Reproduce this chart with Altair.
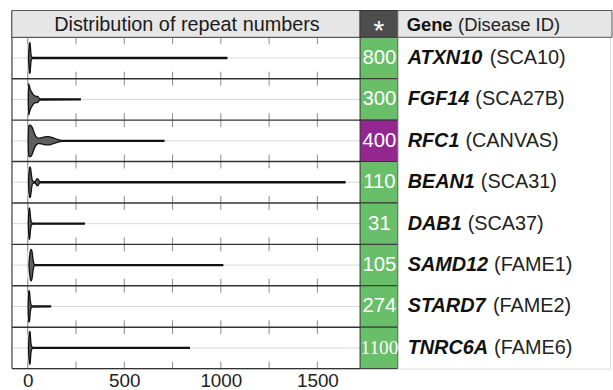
import altair as alt
import pandas as pd

# ---- table content -------------------------------------------------------
genes = ["ATXN10", "FGF14", "RFC1", "BEAN1", "DAB1", "SAMD12", "STARD7", "TNRC6A"]
diseases = ["SCA10", "SCA27B", "CANVAS", "SCA31", "SCA37", "FAME1", "FAME2", "FAME6"]
thresholds = ["800", "300", "400", "110", "31", "105", "274", "1100"]
inheritance = ["AD", "AD", "AR", "AD", "AD", "AD", "AD", "AD"]

axis_labels = [0, 500, 1000, 1500]
minor_ticks = [0, 250, 500, 750, 1000, 1250, 1500]

# ---- violin outlines: repeat number vs. half-width (fraction of a row) ----
atxn10_rep = [4, 6, 8, 10, 12, 14, 16, 19, 24, 40, 1031]
atxn10_hw = [0, 0.2, 0.33, 0.37, 0.35, 0.25, 0.12, 0.04, 0.015, 0.012, 0.012]

fgf14_rep = [3, 5, 8, 12, 16, 20, 28, 36, 44, 50, 56, 62, 272]
fgf14_hw = [0, 0.38, 0.33, 0.26, 0.21, 0.18, 0.12, 0.085, 0.075, 0.075, 0.05, 0.015, 0.012]

rfc1_rep = [2, 4, 8, 14, 20, 26, 32, 38, 46, 54, 62, 72, 84, 96, 108, 120, 132, 144, 156, 168, 178, 705]
rfc1_hw = [0, 0.3, 0.38, 0.38, 0.35, 0.29, 0.21, 0.14, 0.09, 0.065, 0.065, 0.075, 0.09, 0.1, 0.1,
           0.09, 0.07, 0.05, 0.03, 0.018, 0.012, 0.012]

bean1_rep = [4, 6, 9, 12, 15, 18, 22, 28, 38, 42, 46, 50, 54, 58, 62, 1643]
bean1_hw = [0, 0.22, 0.34, 0.37, 0.33, 0.22, 0.08, 0.02, 0.012, 0.04, 0.075, 0.08, 0.075, 0.04, 0.012, 0.012]

dab1_rep = [3, 5, 7, 9, 11, 13, 15, 18, 22, 28, 293]
dab1_hw = [0, 0.25, 0.36, 0.38, 0.33, 0.22, 0.12, 0.05, 0.02, 0.012, 0.012]

samd12_rep = [6, 9, 12, 15, 18, 21, 24, 27, 31, 36, 1010]
samd12_hw = [0, 0.18, 0.3, 0.36, 0.38, 0.35, 0.27, 0.15, 0.05, 0.012, 0.012]

stard7_rep = [2, 4, 6, 8, 10, 12, 15, 19, 24, 118]
stard7_hw = [0, 0.26, 0.37, 0.38, 0.32, 0.2, 0.08, 0.025, 0.015, 0.012]

tnrc6a_rep = [4, 6, 8, 10, 12, 14, 16, 19, 23, 30, 837]
tnrc6a_hw = [0, 0.22, 0.34, 0.4, 0.38, 0.28, 0.14, 0.05, 0.02, 0.012, 0.012]

outlines = [
    (atxn10_rep, atxn10_hw), (fgf14_rep, fgf14_hw), (rfc1_rep, rfc1_hw), (bean1_rep, bean1_hw),
    (dab1_rep, dab1_hw), (samd12_rep, samd12_hw), (stard7_rep, stard7_hw), (tnrc6a_rep, tnrc6a_hw),
]

# ---- layout ---------------------------------------------------------------
ROW_PX = 41.75
HEADER_PX = 27
N = len(genes)
PANEL_H = HEADER_PX + N * ROW_PX
DIST_W, NUM_W, GENE_W = 351, 38, 214
FONT = "Liberation Sans"
GENE_FS = 20

y_scale = alt.Scale(domain=[-HEADER_PX / ROW_PX, N], reverse=True, nice=False, zero=False)
x_scale = alt.Scale(domain=[-82, 1721], nice=False, zero=False)
x_axis = alt.Axis(values=axis_labels, format="d", ticks=False, domain=False, grid=False,
                  labelFont=FONT, labelFontSize=19, labelColor="#222222", labelPadding=3,
                  title=None, labelFlush=False)

# advance widths (em) of Liberation Sans Bold, used to place the regular-weight
# disease names right after the bold gene symbols
BOLD_EM = {"A": 0.722, "B": 0.722, "C": 0.722, "D": 0.722, "E": 0.667, "F": 0.611,
           "G": 0.778, "M": 0.833, "N": 0.722, "R": 0.722, "S": 0.667, "T": 0.611,
           "X": 0.667, "e": 0.556, "n": 0.611, " ": 0.278}


def bold_width(s, size):
    return sum(BOLD_EM.get(ch, 0.556) for ch in s) * size


rows = pd.DataFrame({
    "gene": genes,
    "disease": [f"({d})" for d in diseases],
    "threshold": thresholds,
    "mode": inheritance,
    "top": list(range(N)),
    "bottom": [i + 1 for i in range(N)],
    "center": [i + 0.5 for i in range(N)],
})
rows["disease_x"] = [10 + bold_width(g, GENE_FS) + 0.3 * GENE_FS for g in genes]

violin_records = []
for i, (g, (reps, hws)) in enumerate(zip(genes, outlines)):
    for r, w in zip(reps, hws):
        violin_records.append({"gene": g, "repeat": r, "lo": i + 0.5 - w, "hi": i + 0.5 + w})
violins = pd.DataFrame(violin_records)

boundaries = pd.DataFrame({"b": list(range(N + 1))})

TICK_HALF = 7 / ROW_PX
tick_records = []
for b in range(N + 1):
    for t in minor_ticks:
        tick_records.append({"x": t, "y1": max(b - TICK_HALF, 0), "y2": min(b + TICK_HALF, N)})
ticks = pd.DataFrame(tick_records)

zero_line = pd.DataFrame({"x": [0], "y1": [0], "y2": [N]})
one = pd.DataFrame({"label": ["Distribution of repeat numbers"]})

# ---- distribution panel -----------------------------------------------------
mid_lines = alt.Chart(rows).mark_rule(color="#d8d8d8", strokeWidth=1).encode(
    y=alt.Y("center:Q", scale=y_scale, axis=None))

zero_rule = alt.Chart(zero_line).mark_rule(color="#cccccc", strokeWidth=1).encode(
    x=alt.X("x:Q", scale=x_scale, axis=x_axis),
    y=alt.Y("y1:Q", scale=y_scale, axis=None), y2="y2:Q")

tick_rules = alt.Chart(ticks).mark_rule(color="#8a8a8a", strokeWidth=1).encode(
    x=alt.X("x:Q", scale=x_scale, axis=x_axis),
    y=alt.Y("y1:Q", scale=y_scale, axis=None), y2="y2:Q")

violin_marks = alt.Chart(violins).mark_area(
    fill="#5e5e5e", stroke="#111111", strokeWidth=1.3, interpolate="monotone"
).encode(
    x=alt.X("repeat:Q", scale=x_scale, axis=x_axis),
    y=alt.Y("lo:Q", scale=y_scale, axis=None), y2="hi:Q",
    detail="gene:N")

row_lines = alt.Chart(boundaries).mark_rule(color="#333333", strokeWidth=1.4).encode(
    y=alt.Y("b:Q", scale=y_scale, axis=None))

left_border = alt.Chart(one).mark_rule(color="#555555", strokeWidth=1.3).encode(
    x=alt.value(0), y=alt.value(0), y2=alt.value(PANEL_H))

dist_header = alt.Chart(one).mark_rect(fill="#e6e6e6", stroke="#555555", strokeWidth=1).encode(
    x=alt.value(0), x2=alt.value(DIST_W), y=alt.value(0), y2=alt.value(HEADER_PX))

dist_title = alt.Chart(one).mark_text(
    font=FONT, fontSize=20, color="#1a1a1a", baseline="middle", align="center"
).encode(x=alt.value(DIST_W / 2 + 1), y=alt.value(HEADER_PX / 2 + 1), text="label:N")

dist_panel = alt.layer(
    mid_lines, zero_rule, tick_rules, violin_marks, row_lines, left_border, dist_header, dist_title
).properties(width=DIST_W, height=PANEL_H)

# ---- threshold column -----------------------------------------------------
mode_colors = alt.Scale(domain=["AD", "AR"], range=["#69be69", "#93278f"])

num_header = alt.Chart(one).mark_rect(fill="#4d4d4d", stroke="#333333", strokeWidth=1).encode(
    x=alt.value(0), x2=alt.value(NUM_W), y=alt.value(0), y2=alt.value(HEADER_PX))

star = alt.Chart(pd.DataFrame({"s": ["*"]})).mark_text(
    font="Liberation Sans", fontSize=28, color="white", align="center", baseline="alphabetic"
).encode(x=alt.value(NUM_W / 2), y=alt.value(30), text="s:N")

cells = alt.Chart(rows).mark_rect(stroke="#333333", strokeWidth=1).encode(
    x=alt.value(0), x2=alt.value(NUM_W),
    y=alt.Y("top:Q", scale=y_scale, axis=None), y2="bottom:Q",
    fill=alt.Fill("mode:N", scale=mode_colors, legend=None))

short_nums = alt.Chart(rows).transform_filter("length(datum.threshold) <= 3").mark_text(
    font="Liberation Sans", fontSize=20.5, color="white", align="center", baseline="middle"
).encode(x=alt.value(NUM_W / 2 + 0.5), y=alt.Y("center:Q", scale=y_scale, axis=None),
         text="threshold:N")

long_nums = alt.Chart(rows).transform_filter("length(datum.threshold) > 3").mark_text(
    font="Liberation Sans Narrow", fontSize=19.5, color="white", align="center", baseline="middle"
).encode(x=alt.value(NUM_W / 2 + 0.5), y=alt.Y("center:Q", scale=y_scale, axis=None),
         text="threshold:N")

num_panel = alt.layer(num_header, star, cells, short_nums, long_nums).properties(
    width=NUM_W, height=PANEL_H)

# ---- gene / disease column -----------------------------------------------
gene_header = alt.Chart(one).mark_rect(fill="#e6e6e6", stroke="#555555", strokeWidth=1).encode(
    x=alt.value(0), x2=alt.value(GENE_W + 2), y=alt.value(0), y2=alt.value(HEADER_PX))

HDR_FS = 18.5
hdr = pd.DataFrame({"bold": ["Gene"], "plain": ["(Disease ID)"]})
hdr_bold = alt.Chart(hdr).mark_text(
    font=FONT, fontSize=HDR_FS, fontWeight="bold", color="#111111", align="left", baseline="middle"
).encode(x=alt.value(9), y=alt.value(HEADER_PX / 2 + 1), text="bold:N")
hdr_plain = alt.Chart(hdr).mark_text(
    font=FONT, fontSize=HDR_FS, color="#222222", align="left", baseline="middle"
).encode(x=alt.value(9 + bold_width("Gene", HDR_FS) + 0.3 * HDR_FS),
         y=alt.value(HEADER_PX / 2 + 1), text="plain:N")

gene_text = alt.Chart(rows).mark_text(
    font=FONT, fontSize=GENE_FS, fontWeight="bold", fontStyle="italic", color="#111111",
    align="left", baseline="middle"
).encode(x=alt.value(10), y=alt.Y("center:Q", scale=y_scale, axis=None), text="gene:N")

disease_text = alt.Chart(rows).mark_text(
    font=FONT, fontSize=GENE_FS, color="#222222", align="left", baseline="middle"
).encode(x=alt.X("disease_x:Q", scale=None), y=alt.Y("center:Q", scale=y_scale, axis=None),
         text="disease:N")

gene_panel = alt.layer(gene_header, hdr_bold, hdr_plain, gene_text, disease_text).properties(
    width=GENE_W, height=PANEL_H)

chart = alt.hconcat(dist_panel, num_panel, gene_panel, spacing=0, bounds="flush").properties(
    padding={"left": 10, "top": 7, "right": 0, "bottom": 0}
).configure_view(stroke=None).configure(background="white")

chart.save("out.html", embed_options={"renderer": "svg", "actions": False})
